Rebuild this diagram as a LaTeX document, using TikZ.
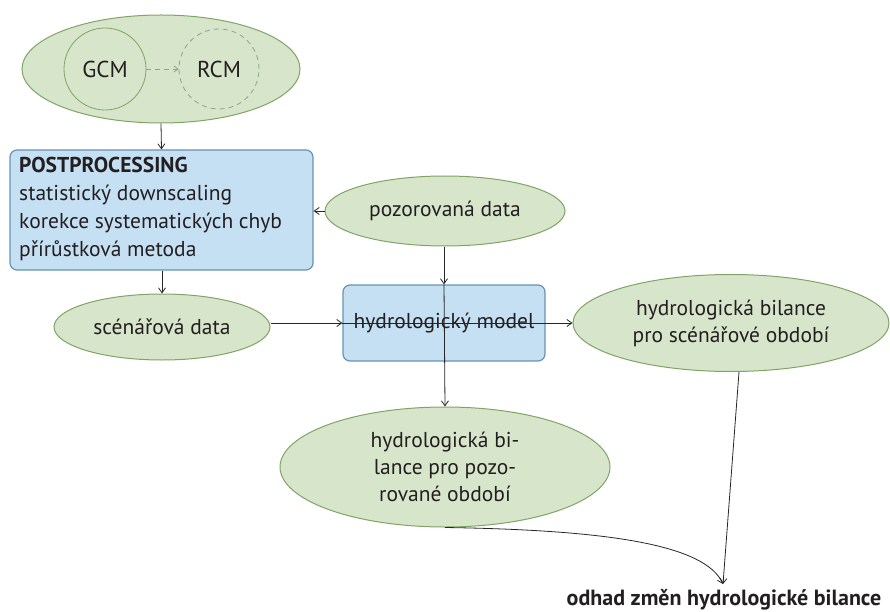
\documentclass[tikz,border=0pt]{standalone}
\usepackage{fontspec}
\setmainfont{PT Sans}
\usetikzlibrary{shapes.geometric,arrows.meta}
\definecolor{ellfill}{HTML}{D7E5CB}
\definecolor{elldraw}{HTML}{80A466}
\definecolor{boxfill}{HTML}{C5DFF3}
\definecolor{boxdraw}{HTML}{6A93B3}
\definecolor{txt}{HTML}{231F20}
\definecolor{dashc}{HTML}{8FA58A}
\tikzset{
  ell/.style={ellipse, draw=elldraw, fill=ellfill, line width=1pt, inner sep=0pt, text=txt, align=center, font=\fontsize{21.5}{27}\selectfont},
  blk/.style={rectangle, rounded corners=7pt, draw=boxdraw, fill=boxfill, line width=1.2pt, inner sep=0pt, text=txt},
  circ/.style={circle, draw=elldraw, line width=0.8pt, inner sep=0pt, text=txt, font=\fontsize{23}{26}\selectfont},
  conn/.style={draw=black!85, line width=0.8pt, -{Straight Barb[length=5pt,width=7pt]}},
}
\begin{document}
\begin{tikzpicture}[x=1pt,y=-1pt]
\useasboundingbox (0,0) rectangle (890,612);
% top ellipse
\node[ell, minimum width=278pt, minimum height=108pt] (top) at (161,69) {};
\node[circ, minimum size=82pt] (gcm) at (105,69) {GCM};
\node[circ, minimum size=80pt, draw=dashc, dashed, dash pattern=on 5pt off 4pt] (rcm) at (219,69) {RCM};
\draw[draw=dashc, line width=0.8pt, dash pattern=on 5pt off 4pt, -{Straight Barb[length=4pt,width=6pt]}] (gcm) -- (rcm);
% postprocessing box
\node[blk, minimum width=303pt, minimum height=120pt] (post) at (161.5,210) {};
\node[anchor=north west, text=txt, align=left, inner sep=0pt, font=\fontsize{21.5}{28}\selectfont] (posttxt) at (19,157)
  {\textbf{POSTPROCESSING}\\statistický downscaling\\korekce systematických chyb\\přírůstková metoda};
% pozorovana data
\node[ell, minimum width=240pt, minimum height=70pt] (poz) at (445,211) {pozorovaná data};
% scenarova data
\node[ell, minimum width=216pt, minimum height=66pt] (scen) at (162,327) {scénářová data};
% hydrologicky model
\node[blk, minimum width=202pt, minimum height=76pt] (model) at (444,323) {};
% bilance scen
\node[ell, minimum width=316pt, minimum height=97pt] (bscen) at (731,323) {hydrologická bilance\\pro scénářové období};
% bilance pozor
\node[ell, minimum width=330pt, minimum height=120pt] (bpoz) at (445,467) {hydrologická bi-\\lance pro pozo-\\rované období};
% result label
\node[font=\fontsize{22}{26}\selectfont\bfseries, text=txt, inner sep=0pt] (res) at (724,600) {odhad změn hydrologické bilance};
\coordinate (tip) at (723,584);
% connectors
\draw[conn] (top.south) -- (post.north);
\draw[conn] (poz.west) -- (post.east |- poz.west);
\draw[conn] (post.south -| scen.north) -- (scen.north);
\draw[conn] (scen.east |- model.west) -- (model.west);
\draw[conn] (poz.south -| model.north) -- (model.north);
\node[text=txt, font=\fontsize{21.5}{26}\selectfont, inner sep=0pt] (modeltxt) at (444,323) {hydrologický model};
\draw[conn] (model.west) -- (bscen.west);
\draw[conn] (model.north) -- (bpoz.north);
\draw[conn] ([xshift=8pt]bscen.south) -- (tip);
\draw[conn] (bpoz.south) .. controls (610,530) and (705,545) .. (tip);
\end{tikzpicture}
\end{document}
